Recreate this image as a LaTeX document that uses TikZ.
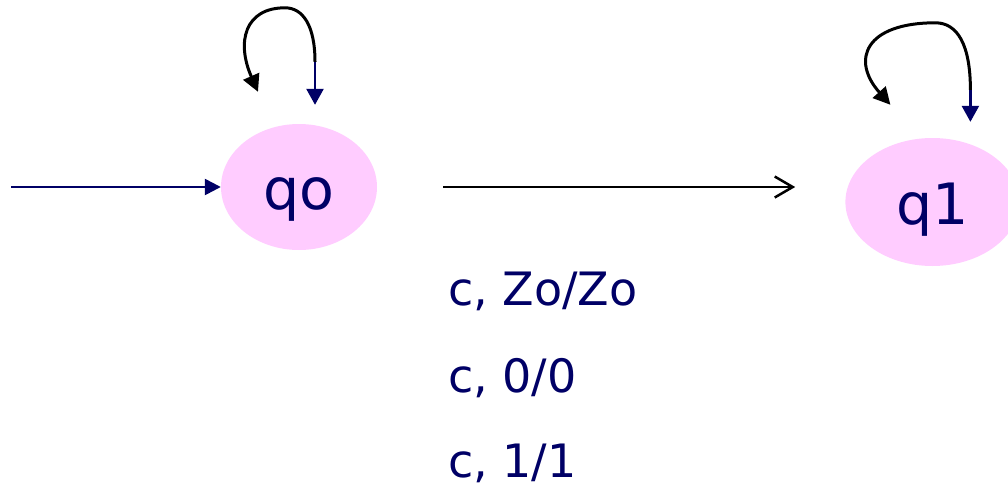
\documentclass[tikz,border=0pt]{standalone}
\usepackage{fontspec}
\setmainfont{DejaVu Sans}
\usetikzlibrary{positioning, calc, shapes, shapes.geometric, arrows.meta}
\definecolor{pdanavy}{RGB}{0,0,102}
\definecolor{pdapink}{RGB}{255,204,255}
\tikzset{
  pda state/.style={ellipse, fill=pdapink, text=pdanavy, inner sep=0, minimum width=156pt, minimum height=126pt, text height=44pt, text depth=0pt, font=\fontsize{57}{57}\selectfont},
  pda init/.style={pdanavy, line width=2.5pt, -{Triangle[length=16pt,width=16pt]}},
  pda edge/.style={black, line width=2.5pt, -{Straight Barb[length=18pt,width=21pt]}},
  pda loop/.style={black, line width=3pt, -{Triangle[length=17pt,width=17pt]}},
  pda loop in/.style={pdanavy, line width=2.5pt, -{Triangle[length=16pt,width=17pt]}},
  lbl trans/.style={anchor=base west, inner sep=0, text=pdanavy, font=\fontsize{46}{46}\selectfont}
}

\begin{document}
\begin{tikzpicture}[x=1pt, y=-1pt]
\useasboundingbox (0,0) rectangle (1008,487);
\clip (0,0) rectangle (1008,487);

\node[pda state] (q0) at (299,187) {qo};
\node[pda state, minimum width=174pt, minimum height=128pt, right=468pt of q0, yshift=-15pt] (q1) {q1};

\coordinate (init) at (11,187);
\draw[pda init] (init) -- (q0);
\draw[pda edge, shorten <=66pt, shorten >=50pt] (q0.east) -- (q0.east -| q1.west);

% loop on qo
\coordinate (q0 loop) at ($(q0.north)+(16,-62)$);
\coordinate (q0 tip) at ($(q0 loop)+(0,43)$);
\coordinate (q0 top) at ($(q0 loop)+(-30,-54)$);
\coordinate (q0 back) at ($(q0 loop)+(-57,30)$);
\draw[pda loop in] (q0 loop) -- (q0 tip);
\draw[pda loop] (q0 loop) .. controls +(0,-36) and +(18,0) .. (q0 top)
  .. controls +(-40,0) and +(-22,-50) .. (q0 back);

% loop on q1
\coordinate (q1 loop) at ($(q1.north)+(38,-48)$);
\coordinate (q1 tip) at ($(q1 loop)+(0,32)$);
\coordinate (q1 top) at ($(q1 loop)+(-35,-67)$);
\coordinate (q1 back) at ($(q1 loop)+(-80,15)$);
\draw[pda loop in] (q1 loop) -- (q1 tip);
\draw[pda loop] (q1 loop) .. controls +(0,-45) and +(22,0) .. (q1 top)
  .. controls +(-70,0) and +(-40,-45) .. (q1 back);

\node[lbl trans] (t1) at (448,305) {c, Zo/Zo};
\node[lbl trans] (t2) at ($(t1.base west)+(0,87)$) {c, 0/0};
\node[lbl trans] (t3) at ($(t2.base west)+(0,85)$) {c, 1/1};

\end{tikzpicture}
\end{document}
